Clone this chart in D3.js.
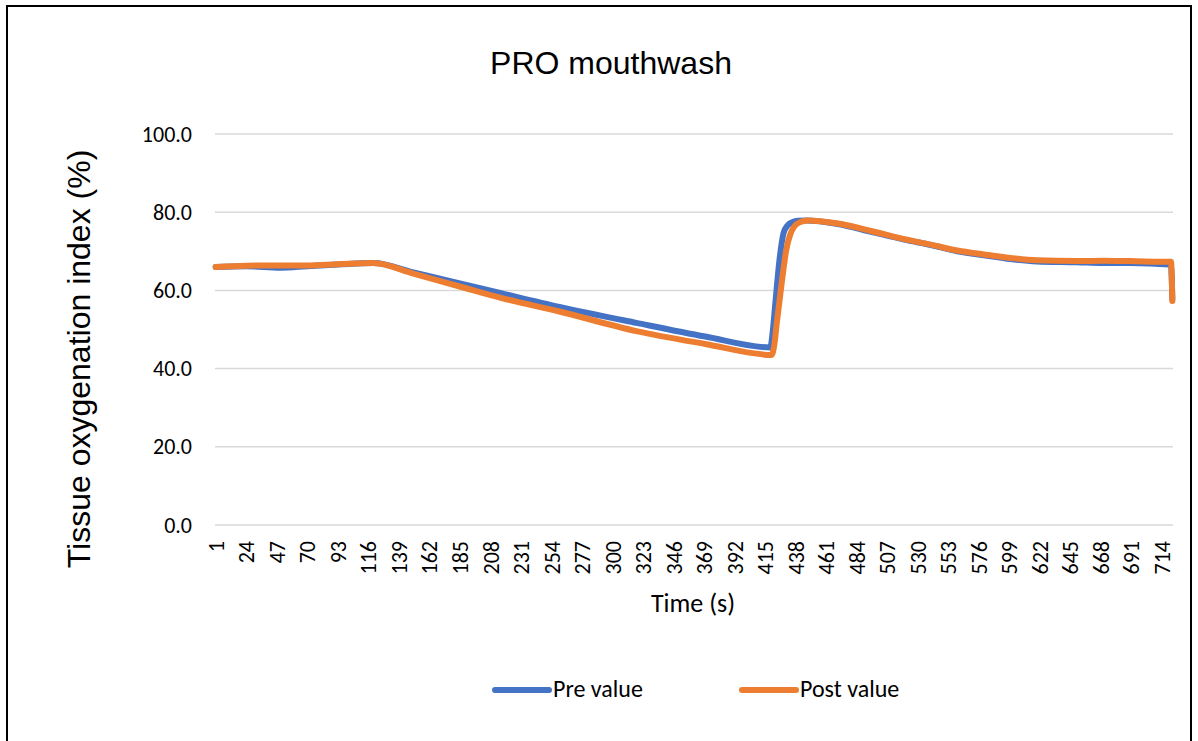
<!DOCTYPE html>
<html><head><meta charset="utf-8">
<script src="https://cdn.jsdelivr.net/npm/d3@7"></script>
<style>html,body{margin:0;padding:0;background:#fff;}</style>
</head><body>
<svg id="c" width="1198" height="741"></svg>
<script>
(function(){
const title = "PRO mouthwash";
const yTitle = "Tissue oxygenation index (%)";
const xTitle = "Time (s)";
const seriesNames = ["Pre value", "Post value"];
const categoryCount = 722;
const xTickLabels = [1,24,47,70,93,116,139,162,185,208,231,254,277,300,323,346,369,392,415,438,461,484,507,530,553,576,599,622,645,668,691,714];
const yTicks = [0,20,40,60,80,100];

const preTimes  = [1,24,50,70,93,120,150,185,216,260,318,370,419,421,423,426,429,432,436,440,446,470,495,520,540,560,580,600,620,650,670,690,720,721,722];
const preValues = [66.0,66.2,65.8,66.2,66.6,67.0,64.6,61.8,59.3,55.8,51.7,48.2,45.4,50.0,57.5,68.0,74.7,76.6,77.5,77.8,77.9,77.0,75.0,73.0,71.6,70.0,69.0,68.0,67.4,67.2,67.0,67.0,66.6,66.5,57.8];
const postTimes  = [1,24,50,70,93,120,150,185,216,260,318,370,420,422,424,426,428,431,434,437,441,447,470,495,520,540,560,580,600,620,650,670,690,720,721,722];
const postValues = [66.0,66.3,66.4,66.4,66.7,67.0,64.3,61.0,58.1,54.6,49.6,46.3,43.5,46.0,52.0,57.5,63.0,70.3,74.3,76.3,77.4,77.9,77.1,75.2,73.1,71.7,70.2,69.2,68.3,67.7,67.5,67.6,67.5,67.3,67.3,57.3];

const colors = ["#4472C4", "#ED7D31"];
const svg = d3.select("#c");
const mLeft = 215, mRight = 1173, mTop = 134, mBottom = 525;
const bodyFont = "Carlito, Lato, sans-serif";
const headFont = "Liberation Sans, Arial, sans-serif";

svg.append("rect").attr("x",7).attr("y",6).attr("width",1184).attr("height",760)
  .attr("fill","#fff").attr("stroke","#000").attr("stroke-width",2);

const x = d3.scaleLinear().domain([0.5, categoryCount + 0.5]).range([mLeft, mRight]);
const y = d3.scaleLinear().domain([0, 100]).range([mBottom, mTop]);

svg.append("g").selectAll("line").data(yTicks).join("line")
  .attr("x1", mLeft).attr("x2", mRight)
  .attr("y1", d => y(d)).attr("y2", d => y(d))
  .attr("stroke", "#d9d9d9").attr("stroke-width", 1.5);

const yAxis = d3.axisLeft(y).tickValues(yTicks).tickFormat(d3.format(".1f")).tickSize(0).tickPadding(23);
const gy = svg.append("g").attr("transform", `translate(${mLeft},0)`).call(yAxis);
gy.select(".domain").remove();
gy.selectAll("text").attr("font-family", bodyFont).attr("font-size", 22).attr("fill","#000");

const xAxis = d3.axisBottom(x).tickValues(xTickLabels).tickFormat(d => String(d)).tickSize(0).tickPadding(0);
const gx = svg.append("g").attr("transform", `translate(0,${mBottom})`).call(xAxis);
gx.select(".domain").remove();
gx.selectAll("text")
  .attr("font-family", bodyFont).attr("font-size", 22).attr("fill","#000")
  .attr("transform","rotate(-90)")
  .attr("text-anchor","end")
  .attr("x", -16).attr("y", 0).attr("dy","0.35em");

const line = d3.line().x(d => x(d[0])).y(d => y(d[1])).curve(d3.curveMonotoneX);
const preData = preTimes.map((t,i) => [t, preValues[i]]);
const postData = postTimes.map((t,i) => [t, postValues[i]]);
[preData, postData].forEach((data, i) => {
  svg.append("path").datum(data).attr("d", line)
    .attr("fill","none").attr("stroke", colors[i]).attr("stroke-width", 6)
    .attr("stroke-linejoin","round").attr("stroke-linecap","round");
});

svg.append("text").attr("x", 611).attr("y", 74).attr("text-anchor","middle")
  .attr("font-family", headFont).attr("font-size", 32).attr("fill","#000").text(title);
svg.append("text").attr("transform","translate(90,359) rotate(-90)").attr("text-anchor","middle")
  .attr("font-family", headFont).attr("font-size", 32).attr("fill","#000").text(yTitle);
svg.append("text").attr("x", 693).attr("y", 612).attr("text-anchor","middle")
  .attr("font-family", bodyFont).attr("font-size", 26).attr("fill","#000").text(xTitle);

const legX = [495, 742];
seriesNames.forEach((name, i) => {
  svg.append("line").attr("x1", legX[i]).attr("x2", legX[i] + 54).attr("y1", 690).attr("y2", 690)
    .attr("stroke", colors[i]).attr("stroke-width", 6).attr("stroke-linecap","round");
  svg.append("text").attr("x", legX[i] + 58).attr("y", 697)
    .attr("font-family", bodyFont).attr("font-size", 24).attr("fill","#000").text(name);
});
})();
</script>
</body></html>
